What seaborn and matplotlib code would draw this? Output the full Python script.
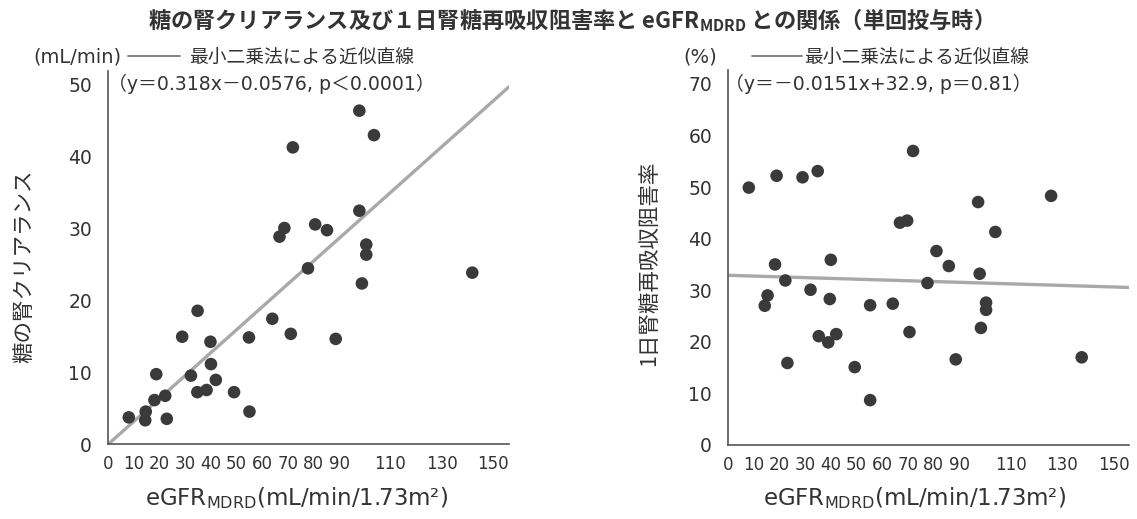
import matplotlib
matplotlib.use("Agg")
import matplotlib.pyplot as plt
from matplotlib import font_manager
from matplotlib.lines import Line2D
import numpy as np
import pandas as pd
import seaborn as sns

# 糖の腎クリアランス (mL/min) vs eGFR_MDRD
clear_egfr = [8.1, 14.7, 14.5, 18.1, 18.8, 22.3, 22.9, 28.9, 32.3, 34.9, 34.8, 38.4,
              39.9, 40.1, 42.0, 49.1, 54.9, 55.1, 64.0, 66.8, 68.7, 71.2, 72.0, 77.9,
              80.7, 85.3, 88.7, 97.9, 97.9, 98.9, 100.6, 100.6, 103.6, 141.9]
clear_value = [3.7, 4.5, 3.3, 6.1, 9.7, 6.7, 3.5, 14.9, 9.5, 18.5, 7.2, 7.5,
               14.2, 11.1, 8.9, 7.2, 14.8, 4.5, 17.4, 28.8, 30.0, 15.3, 41.2, 24.4,
               30.5, 29.7, 14.6, 46.3, 32.4, 22.3, 27.7, 26.3, 42.9, 23.8]

# 1日腎糖再吸収阻害率 (%) vs eGFR_MDRD
inhib_egfr = [8.1, 14.3, 15.4, 18.3, 18.9, 22.3, 23.1, 29.0, 32.1, 34.9, 35.3, 39.0,
              39.6, 40.0, 42.1, 49.3, 55.3, 55.3, 64.1, 66.9, 69.7, 70.6, 72.0, 77.6,
              81.1, 85.9, 88.6, 97.3, 97.9, 98.4, 100.4, 100.4, 104.0, 125.7, 137.6]
inhib_value = [49.9, 27.0, 29.0, 35.0, 52.2, 31.9, 15.9, 51.9, 30.1, 53.1, 21.1, 19.9,
               28.3, 35.9, 21.5, 15.1, 27.1, 8.7, 27.4, 43.1, 43.5, 21.9, 57.0, 31.4,
               37.6, 34.7, 16.6, 47.1, 33.2, 22.7, 27.6, 26.2, 41.3, 48.3, 17.0]

# least-squares fits (slope, intercept)
clear_fit = (0.318, -0.0576)
inhib_fit = (-0.0151, 32.9)

x_ticks = list(range(0, 151, 10))
x_tick_labels = ["0", "10", "20", "30", "40", "50", "60", "70", "80", "90",
                 "", "110", "", "130", "", "150"]
clear_ticks = [0, 10, 20, 30, 40, 50]
inhib_ticks = [0, 10, 20, 30, 40, 50, 60, 70]

TITLE = "糖の腎クリアランス及び１日腎糖再吸収阻害率と eGFR$_{\\mathregular{MDRD}}$ との関係（単回投与時）"
X_LABEL = "eGFR$_{\\mathregular{MDRD}}$(mL/min/1.73m²)"
FIT_LABEL = "最小二乗法による近似直線"
CLEAR_EQ = "（y＝0.318x－0.0576, p＜0.0001）"
INHIB_EQ = "（y＝－0.0151x+32.9, p＝0.81）"

sns.set_theme(style="white")
JP = "Noto Sans CJK JP"
LATIN = "DejaVu Sans"
plt.rcParams["font.family"] = [LATIN, JP]
JP_FIRST = [JP, LATIN]

available = {f.name for f in font_manager.fontManager.ttflist}
narrow = next((n for n in ["Liberation Sans Narrow", "DejaVu Sans Condensed"] if n in available), None)

TEXT = "#333333"
AXIS = "#555555"
POINT = "#3a3a3a"
FIT = "#a9a9a9"

W, H = 1137, 519
fig = plt.figure(figsize=(W / 100, H / 100), dpi=100)


def fx(px):
    return px / W


def fy(py):
    return 1 - py / H


def panel(rect, x, y, fit, xmax, ymax, yticks, ylabel, ylabel_pos, xlabel_pos):
    ax = fig.add_axes(rect)
    pts = pd.DataFrame({"eGFR": x, "value": y})
    sns.scatterplot(data=pts, x="eGFR", y="value", ax=ax, s=82, color=POINT,
                    edgecolor="none", linewidth=0, zorder=3)
    lx = np.array([0.0, xmax])
    line = pd.DataFrame({"eGFR": lx, "value": fit[0] * lx + fit[1]})
    sns.lineplot(data=line, x="eGFR", y="value", ax=ax, color=FIT, linewidth=2.4, zorder=2)

    ax.set_xlim(0, xmax)
    ax.set_ylim(0, ymax)
    for side in ("top", "right"):
        ax.spines[side].set_visible(False)
    for side in ("left", "bottom"):
        ax.spines[side].set_color(AXIS)
        ax.spines[side].set_linewidth(1.2)

    ax.set_xticks(x_ticks)
    if narrow:
        ax.set_xticklabels(x_tick_labels, fontsize=14, family=narrow, color=TEXT)
    else:
        ax.set_xticklabels(x_tick_labels, fontsize=12, color=TEXT)
    ax.set_yticks(yticks)
    ax.set_yticklabels([str(v) for v in yticks], fontsize=13.5, color=TEXT)
    ax.tick_params(axis="x", direction="out", length=5.5, width=1.0, color=AXIS, pad=2.5)
    ax.tick_params(axis="y", direction="out", length=6.5, width=1.0, color="#777777", pad=5)

    ax.set_xlabel(X_LABEL, fontsize=16.5, color=TEXT)
    ax.xaxis.label.set_va("center")
    ax.xaxis.set_label_coords(*xlabel_pos)
    ax.set_ylabel(ylabel, fontsize=15.5, color=TEXT, family=JP_FIRST)
    ax.yaxis.label.set_va("center")
    ax.yaxis.set_label_coords(*ylabel_pos)
    return ax


ax1 = panel([fx(108), fy(444), fx(401), (444 - 70.7) / H],
            clear_egfr, clear_value, clear_fit, 156.2, 51.85, clear_ticks,
            "糖の腎クリアランス", (-0.2095, 0.477), (0.471, -0.1447))
ax2 = panel([fx(728), fy(445), fx(401), (445 - 70) / H],
            inhib_egfr, inhib_value, inhib_fit, 156.0, 72.7, inhib_ticks,
            "1日腎糖再吸収阻害率", (-0.197, 0.485), (0.466, -0.1413))

fig.text(fx(565), fy(20), TITLE, ha="center", va="center", fontsize=16,
         fontweight="bold", color=TEXT, family=JP_FIRST)

# units, fit legends and equations above each panel
fig.text(fx(33), fy(57), "(mL/min)", ha="left", va="center", fontsize=14, color=TEXT)
fig.text(fx(108), fy(84), CLEAR_EQ, ha="left", va="center", fontsize=13.6, color=TEXT)
fig.text(fx(683), fy(57), "(%)", ha="left", va="center", fontsize=14, color=TEXT)
fig.text(fx(725), fy(84), INHIB_EQ, ha="left", va="center", fontsize=13.6, color=TEXT)

for ax, x0, handle_len, pad in ((ax1, 128, 2.75, 0.5), (ax2, 752, 2.65, 0.15)):
    ax.legend(handles=[Line2D([], [], color="#7a7a7a", linewidth=1.3)], labels=[FIT_LABEL],
              loc="center left", bbox_to_anchor=(fx(x0), fy(57)), bbox_transform=fig.transFigure,
              frameon=False, borderpad=0, borderaxespad=0, handlelength=handle_len,
              handletextpad=pad, fontsize=13.5, labelcolor=TEXT)

fig.savefig("out.png", dpi=100)
